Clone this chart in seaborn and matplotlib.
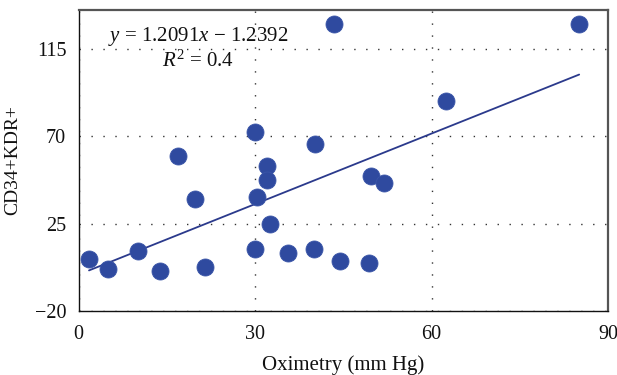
import numpy as np
import pandas as pd
import matplotlib
matplotlib.use("Agg")
import matplotlib.pyplot as plt
import seaborn as sns

oximetry = [1.75, 5.0, 10.0, 13.8, 16.9, 19.8, 21.4, 30.0, 30.0, 30.3, 32.0, 32.0,
            32.5, 35.6, 40.0, 40.2, 43.4, 44.5, 49.3, 49.7, 51.9, 62.4, 85.1]
cd34_kdr = [6.8, 1.8, 10.7, 0.7, 59.8, 37.8, 2.8, 72.0, 11.8, 38.6, 54.7, 47.5,
            24.9, 9.7, 11.8, 65.8, 127.5, 5.8, 4.9, 49.6, 45.8, 87.9, 127.5]
slope = 1.2091
intercept = -1.2392
x_ticks = [0, 30, 60, 90]
y_ticks = [-20, 25, 70, 115]

df = pd.DataFrame({"x": oximetry, "y": cd34_kdr})
xl = np.array([min(oximetry), max(oximetry)])
fit = pd.DataFrame({"x": xl, "y": slope * xl + intercept})

sns.set_theme(style="white")
plt.rcParams["font.family"] = ["Liberation Serif", "DejaVu Serif"]
plt.rcParams["mathtext.fontset"] = "custom"
plt.rcParams["mathtext.it"] = "Liberation Serif:italic"
plt.rcParams["mathtext.rm"] = "Liberation Serif"

fig = plt.figure(figsize=(6.17, 3.75), dpi=100)
ax = fig.add_axes([0.1276, 0.1707, 0.8578, 0.8033])

sns.lineplot(data=fit, x="x", y="y", ax=ax, color="#2b3a8c", lw=1.3, zorder=2)
sns.scatterplot(data=df, x="x", y="y", ax=ax, s=150, color="#2f4a9f",
                edgecolor="#3a55a8", linewidth=0.6, zorder=3)

ax.set_xlim(0, 90)
ax.set_ylim(-20, 135)
ax.set_xticks(x_ticks)
ax.set_yticks(y_ticks)
ax.set_xticklabels(["0", "30", "60", "90"])
ax.set_yticklabels(["\u221220", "25", "70", "115"])
ax.tick_params(length=0, labelsize=14.5, colors="#111111")
ax.tick_params(axis="x", pad=10)
ax.tick_params(axis="y", pad=9)
ax.grid(True, color="#333333", linestyle=(0, (1, 7.6)), linewidth=1)

for s in ["left", "bottom"]:
    ax.spines[s].set_color("#111111")
    ax.spines[s].set_linewidth(1.0)
for s in ["top", "right"]:
    ax.spines[s].set_color("#555555")
    ax.spines[s].set_linewidth(1.6)

ax.set_xlabel("Oximetry (mm Hg)", fontsize=15, color="#111111", labelpad=8)
ax.set_ylabel("CD34+KDR+", fontsize=14, color="#111111", labelpad=10)

ax.text(20.3, 121, "$y$ = 1.2091$x$ \u2212 1.2392",
        ha="center", va="center", fontsize=15, color="#111111")
ax.text(20.3, 108.5, r"$R^2$ = 0.4", ha="center", va="center", fontsize=15,
        color="#111111")

fig.savefig("out.png", dpi=100)
